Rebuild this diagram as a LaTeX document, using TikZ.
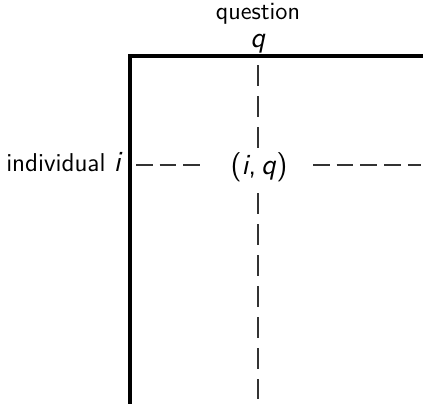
\documentclass[tikz,border=0pt]{standalone}
\begin{document}
\begin{tikzpicture}[x=0.5pt,y=-0.5pt,
  font=\sffamily\fontsize{12.4}{14}\selectfont,
  frame/.style={line width=1.6pt, line join=miter},
  hdash/.style={black!80, line width=0.65pt, dash pattern=on 8.25pt off 3.6pt},
  vdash/.style={black!80, line width=0.65pt, dash pattern=on 10.5pt off 5pt},
  lbl/.style={inner sep=0pt},
  big/.style={inner sep=0pt, font=\sffamily\fontsize{14.6}{17}\selectfont}]
\useasboundingbox (0,0) rectangle (423,404);
% labels
\node[lbl, anchor=base] (qword) at (258,19.5) {question};
\node[big, anchor=base] (qsym) at (258,47) {\textsl{q}};
\node[lbl, anchor=base east, font=\sffamily\fontsize{12.9}{15}\selectfont] (indiv) at (123,171) {individual {\fontsize{14.6}{17}\selectfont\textsl{i}}};
\node[big] (iq) at (259,167) {(\textsl{i},\thinspace\textsl{q})};
% frame
\coordinate (tr) at (423,56);
\coordinate (corner) at (130,56);
\coordinate (bl) at (130,404);
\draw[frame] (tr) -- (corner) -- (bl);
% dashed guides
\coordinate (vtop) at (258,65);
\coordinate (va) at (258,148);
\coordinate (vb) at (258,193);
\coordinate (vbot) at (258,399);
\coordinate (hl) at (136,165);
\coordinate (ha) at (203,165);
\coordinate (hb) at (313,165);
\coordinate (hr) at (421,165);
\draw[vdash] (vtop) -- (va);
\draw[vdash] (vb) -- (vbot);
\draw[hdash] (hl) -- (ha);
\draw[hdash] (hb) -- (hr);
\end{tikzpicture}
\end{document}
